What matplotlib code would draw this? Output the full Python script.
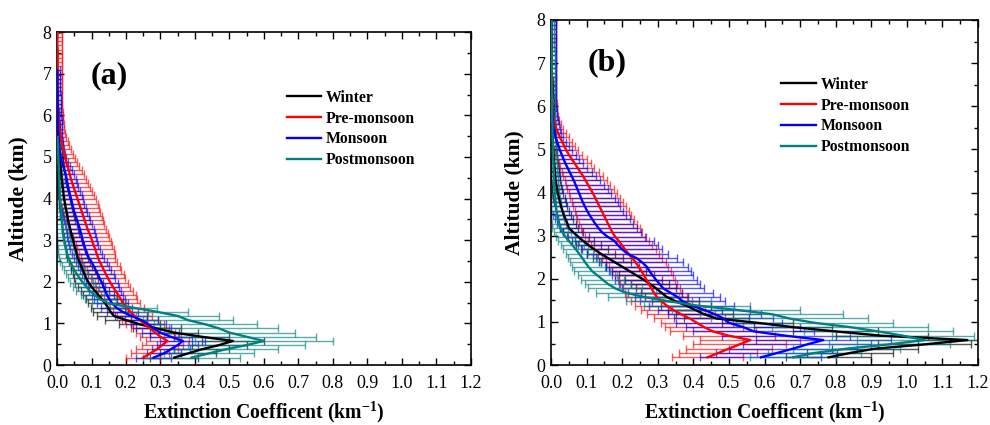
import numpy as np
import matplotlib
matplotlib.use('Agg')
import matplotlib.pyplot as plt
from matplotlib.ticker import MultipleLocator

plt.rcParams['font.family'] = ['Liberation Serif', 'DejaVu Serif']
plt.rcParams['mathtext.fontset'] = 'custom'
plt.rcParams['mathtext.rm'] = 'Liberation Serif'
plt.rcParams['mathtext.bf'] = 'Liberation Serif:bold'

# --- DATA ---
# altitude levels (km), every 0.1 km from 0.18 km
ALT = np.round(np.arange(0.18, 8.0, 0.1), 2)

SEASONS = ['Winter', 'Pre-monsoon', 'Monsoon', 'Postmonsoon']
COLORS = ['#000000', '#ff0000', '#0000ff', '#008080']

# panel (a)
winter_a = [0.34, 0.38, 0.42, 0.47, 0.51, 0.42, 0.34, 0.29, 0.24, 0.20,
            0.165, 0.155, 0.148, 0.14, 0.13, 0.12, 0.11, 0.10, 0.092, 0.085,
            0.08, 0.075, 0.07, 0.065, 0.06, 0.057, 0.054, 0.05, 0.047, 0.044,
            0.041, 0.038, 0.035, 0.032, 0.030, 0.028, 0.025, 0.023, 0.021, 0.019,
            0.018, 0.016, 0.015, 0.013, 0.012, 0.011, 0.010, 0.009, 0.008, 0.007,
            0.006, 0.005, 0.005, 0.004, 0.004, 0.003, 0.003, 0.002, 0.002, 0.002, 0.001]
winter_a_err = [0.07, 0.08, 0.08, 0.08, 0.09, 0.08, 0.07, 0.07, 0.06, 0.06,
                0.05, 0.05, 0.05, 0.05, 0.045, 0.045, 0.04, 0.04, 0.04, 0.035,
                0.035, 0.035, 0.03, 0.03, 0.03, 0.03, 0.028, 0.028, 0.026, 0.025,
                0.024, 0.023, 0.022, 0.021, 0.02, 0.019, 0.018, 0.017, 0.016, 0.015,
                0.014, 0.013, 0.012, 0.011, 0.01, 0.01, 0.009, 0.009, 0.008, 0.008,
                0.007, 0.007, 0.006, 0.006, 0.005, 0.005, 0.005, 0.004, 0.004, 0.004, 0.003]
premon_a = [0.25, 0.27, 0.29, 0.305, 0.32, 0.30, 0.285, 0.27, 0.255, 0.24,
            0.225, 0.213, 0.202, 0.192, 0.185, 0.178, 0.17, 0.162, 0.155, 0.148,
            0.142, 0.136, 0.13, 0.124, 0.119, 0.115, 0.111, 0.106, 0.102, 0.098,
            0.093, 0.088, 0.084, 0.08, 0.076, 0.072, 0.068, 0.064, 0.06, 0.056,
            0.052, 0.048, 0.044, 0.04, 0.037, 0.034, 0.03, 0.027, 0.024, 0.021,
            0.018, 0.015, 0.013, 0.011, 0.009, 0.007, 0.006, 0.005, 0.004, 0.004,
            0.003, 0.003, 0.003, 0.003, 0.003, 0.002, 0.002, 0.002, 0.002, 0.002,
            0.002, 0.002, 0.002, 0.002, 0.002, 0.001, 0.001, 0.001, 0.001]
premon_a_err = [0.05, 0.055, 0.06, 0.06, 0.062, 0.06, 0.056, 0.055, 0.054, 0.052,
                0.05, 0.05, 0.049, 0.05, 0.048, 0.05, 0.051, 0.049, 0.05, 0.05,
                0.051, 0.05, 0.052, 0.051, 0.05, 0.052, 0.053, 0.052, 0.054, 0.053,
                0.054, 0.054, 0.053, 0.054, 0.055, 0.054, 0.053, 0.054, 0.053, 0.052,
                0.05, 0.048, 0.046, 0.044, 0.041, 0.038, 0.035, 0.031, 0.028, 0.025,
                0.022, 0.02, 0.018, 0.016, 0.015, 0.014, 0.013, 0.013, 0.012, 0.012,
                0.012, 0.012, 0.012, 0.012, 0.012, 0.012, 0.012, 0.012, 0.012, 0.012,
                0.012, 0.012, 0.012, 0.012, 0.012, 0.012, 0.012, 0.012, 0.012]
monsoon_a = [0.28, 0.31, 0.33, 0.35, 0.365, 0.33, 0.30, 0.28, 0.265, 0.245,
             0.215, 0.19, 0.172, 0.16, 0.152, 0.145, 0.14, 0.135, 0.13, 0.124,
             0.118, 0.112, 0.106, 0.10, 0.092, 0.086, 0.082, 0.078, 0.075, 0.072,
             0.069, 0.066, 0.062, 0.058, 0.054, 0.05, 0.047, 0.044, 0.041, 0.038,
             0.035, 0.032, 0.03, 0.028, 0.025, 0.022, 0.018, 0.014, 0.011, 0.009,
             0.007, 0.006, 0.005, 0.004, 0.004, 0.003, 0.003, 0.003, 0.002, 0.002,
             0.002, 0.002, 0.002, 0.002, 0.001, 0.001, 0.001, 0.001, 0.001, 0.001]
monsoon_a_err = [0.05, 0.05, 0.055, 0.06, 0.065, 0.06, 0.055, 0.05, 0.05, 0.048,
                 0.046, 0.045, 0.044, 0.045, 0.044, 0.045, 0.046, 0.045, 0.046, 0.045,
                 0.046, 0.045, 0.045, 0.044, 0.044, 0.043, 0.043, 0.042, 0.042, 0.042,
                 0.041, 0.04, 0.04, 0.039, 0.038, 0.037, 0.036, 0.035, 0.034, 0.033,
                 0.031, 0.03, 0.028, 0.026, 0.024, 0.022, 0.02, 0.018, 0.016, 0.014,
                 0.013, 0.012, 0.011, 0.011, 0.01, 0.01, 0.01, 0.01, 0.01, 0.01,
                 0.01, 0.01, 0.01, 0.01, 0.009, 0.009, 0.009, 0.009, 0.009, 0.009]
postmon_a = [0.39, 0.44, 0.49, 0.55, 0.60, 0.55, 0.50, 0.47, 0.43, 0.38,
             0.35, 0.29, 0.22, 0.15, 0.125, 0.11, 0.095, 0.085, 0.075, 0.066,
             0.058, 0.05, 0.044, 0.038, 0.033, 0.029, 0.026, 0.023, 0.021, 0.019,
             0.017, 0.016, 0.015, 0.014, 0.013, 0.012, 0.011, 0.01, 0.009, 0.008,
             0.008, 0.007, 0.007, 0.006, 0.006, 0.005, 0.005, 0.004, 0.004, 0.003,
             0.003, 0.003, 0.002, 0.002]
postmon_a_err = [0.14, 0.13, 0.15, 0.17, 0.20, 0.20, 0.19, 0.17, 0.15, 0.13,
                 0.12, 0.09, 0.07, 0.05, 0.045, 0.04, 0.04, 0.038, 0.036, 0.034,
                 0.032, 0.03, 0.03, 0.028, 0.026, 0.025, 0.024, 0.022, 0.02, 0.02,
                 0.019, 0.018, 0.017, 0.016, 0.015, 0.014, 0.013, 0.012, 0.011, 0.01,
                 0.01, 0.009, 0.009, 0.008, 0.008, 0.007, 0.007, 0.006, 0.006, 0.006,
                 0.005, 0.005, 0.005, 0.005]

# panel (b)
winter_b = [0.78, 0.84, 0.91, 1.05, 1.17, 0.93, 0.80, 0.68, 0.58, 0.465,
            0.43, 0.405, 0.38, 0.35, 0.325, 0.31, 0.295, 0.278, 0.26, 0.24,
            0.22, 0.20, 0.18, 0.16, 0.14, 0.122, 0.105, 0.09, 0.076, 0.062,
            0.05, 0.046, 0.041, 0.036, 0.032, 0.028, 0.025, 0.022, 0.019, 0.017,
            0.015, 0.013, 0.012, 0.011, 0.01, 0.009, 0.008, 0.007, 0.006, 0.005,
            0.005, 0.004, 0.004, 0.003, 0.003, 0.003, 0.002, 0.002, 0.002, 0.002,
            0.002, 0.001, 0.001, 0.001, 0.001]
winter_b_err = [0.12, 0.12, 0.12, 0.13, 0.14, 0.13, 0.12, 0.11, 0.10, 0.09,
                0.08, 0.075, 0.07, 0.065, 0.06, 0.058, 0.056, 0.054, 0.052, 0.05,
                0.048, 0.046, 0.044, 0.042, 0.04, 0.038, 0.035, 0.032, 0.03, 0.028,
                0.026, 0.024, 0.022, 0.02, 0.019, 0.018, 0.017, 0.016, 0.015, 0.014,
                0.013, 0.012, 0.012, 0.011, 0.011, 0.01, 0.01, 0.009, 0.009, 0.008,
                0.008, 0.008, 0.007, 0.007, 0.007, 0.006, 0.006, 0.006, 0.005, 0.005,
                0.005, 0.005, 0.004, 0.004, 0.004]
premon_b = [0.44, 0.47, 0.50, 0.53, 0.56, 0.50, 0.455, 0.43, 0.41, 0.39,
            0.365, 0.343, 0.325, 0.31, 0.297, 0.289, 0.282, 0.275, 0.268, 0.261,
            0.254, 0.246, 0.238, 0.228, 0.218, 0.208, 0.199, 0.19, 0.18, 0.172,
            0.166, 0.16, 0.154, 0.148, 0.142, 0.136, 0.13, 0.124, 0.118, 0.111,
            0.104, 0.097, 0.09, 0.082, 0.074, 0.066, 0.058, 0.05, 0.043, 0.037,
            0.031, 0.025, 0.02, 0.015, 0.011, 0.008, 0.006, 0.005, 0.004, 0.004,
            0.003, 0.003, 0.003, 0.003, 0.003, 0.003, 0.002, 0.002, 0.002, 0.002,
            0.002, 0.002, 0.002, 0.002, 0.002, 0.002, 0.001, 0.001, 0.001]
premon_b_err = [0.10, 0.11, 0.12, 0.13, 0.14, 0.13, 0.12, 0.11, 0.10, 0.10,
                0.095, 0.09, 0.09, 0.085, 0.085, 0.08, 0.08, 0.08, 0.08, 0.081,
                0.082, 0.083, 0.084, 0.085, 0.085, 0.086, 0.086, 0.085, 0.085, 0.084,
                0.083, 0.082, 0.08, 0.078, 0.076, 0.074, 0.072, 0.07, 0.068, 0.065,
                0.062, 0.059, 0.056, 0.052, 0.048, 0.045, 0.042, 0.038, 0.034, 0.031,
                0.028, 0.025, 0.022, 0.019, 0.017, 0.015, 0.014, 0.013, 0.013, 0.012,
                0.012, 0.012, 0.012, 0.012, 0.012, 0.012, 0.012, 0.012, 0.012, 0.012,
                0.012, 0.012, 0.012, 0.012, 0.012, 0.012, 0.012, 0.012, 0.012]
monsoon_b = [0.59, 0.635, 0.68, 0.72, 0.765, 0.66, 0.57, 0.54, 0.50, 0.485,
             0.46, 0.43, 0.395, 0.37, 0.355, 0.335, 0.315, 0.305, 0.295, 0.285,
             0.277, 0.269, 0.256, 0.24, 0.215, 0.20, 0.188, 0.178, 0.158, 0.143,
             0.133, 0.124, 0.116, 0.108, 0.101, 0.095, 0.089, 0.084, 0.079, 0.074,
             0.069, 0.064, 0.058, 0.052, 0.046, 0.04, 0.035, 0.03, 0.025, 0.021,
             0.017, 0.013, 0.01, 0.008, 0.006, 0.005, 0.004, 0.004, 0.003, 0.003,
             0.003, 0.003, 0.003, 0.002, 0.002, 0.002, 0.002, 0.002, 0.002, 0.002,
             0.002, 0.002, 0.002, 0.001, 0.001, 0.001, 0.001, 0.001, 0.001]
monsoon_b_err = [0.17, 0.17, 0.18, 0.18, 0.19, 0.18, 0.17, 0.16, 0.15, 0.14,
                 0.13, 0.13, 0.12, 0.12, 0.12, 0.12, 0.115, 0.115, 0.115, 0.115,
                 0.115, 0.115, 0.116, 0.115, 0.114, 0.113, 0.112, 0.111, 0.11, 0.11,
                 0.108, 0.106, 0.105, 0.103, 0.102, 0.1, 0.098, 0.095, 0.09, 0.085,
                 0.08, 0.074, 0.068, 0.062, 0.056, 0.05, 0.045, 0.04, 0.035, 0.03,
                 0.026, 0.022, 0.019, 0.017, 0.015, 0.014, 0.013, 0.013, 0.012, 0.012,
                 0.012, 0.012, 0.012, 0.012, 0.012, 0.012, 0.012, 0.012, 0.012, 0.012,
                 0.012, 0.012, 0.012, 0.012, 0.012, 0.012, 0.012, 0.012, 0.012]
postmon_b = [0.68, 0.74, 0.83, 0.95, 1.05, 0.99, 0.92, 0.84, 0.74, 0.67,
             0.62, 0.52, 0.41, 0.33, 0.26, 0.21, 0.18, 0.16, 0.145, 0.13,
             0.115, 0.105, 0.096, 0.088, 0.079, 0.07, 0.06, 0.05, 0.04, 0.032,
             0.026, 0.022, 0.019, 0.017, 0.015, 0.014, 0.013, 0.012, 0.011, 0.01,
             0.009, 0.009, 0.008, 0.008, 0.007, 0.007, 0.006, 0.006, 0.005, 0.005,
             0.005, 0.004, 0.004, 0.004, 0.004, 0.003, 0.003, 0.003, 0.003, 0.003,
             0.003, 0.002, 0.002, 0.002, 0.002, 0.002, 0.002, 0.002, 0.002, 0.002,
             0.002, 0.002, 0.001, 0.001, 0.001, 0.001, 0.001, 0.001, 0.001]
postmon_b_err = [0.12, 0.13, 0.15, 0.17, 0.19, 0.20, 0.21, 0.22, 0.22, 0.22,
                 0.20, 0.18, 0.15, 0.12, 0.10, 0.085, 0.075, 0.065, 0.06, 0.055,
                 0.05, 0.047, 0.044, 0.041, 0.038, 0.035, 0.032, 0.03, 0.027, 0.024,
                 0.022, 0.02, 0.018, 0.017, 0.016, 0.015, 0.014, 0.013, 0.012, 0.012,
                 0.011, 0.011, 0.011, 0.01, 0.01, 0.01, 0.01, 0.01, 0.01, 0.01,
                 0.009, 0.009, 0.009, 0.009, 0.009, 0.009, 0.009, 0.009, 0.009, 0.009,
                 0.009, 0.009, 0.008, 0.008, 0.008, 0.008, 0.008, 0.008, 0.008, 0.008,
                 0.008, 0.008, 0.008, 0.008, 0.008, 0.008, 0.008, 0.008, 0.008]

PANELS = [
    ('(a)', [winter_a, premon_a, monsoon_a, postmon_a],
     [winter_a_err, premon_a_err, monsoon_a_err, postmon_a_err]),
    ('(b)', [winter_b, premon_b, monsoon_b, postmon_b],
     [winter_b_err, premon_b_err, monsoon_b_err, postmon_b_err]),
]

fig = plt.figure(figsize=(9.9, 4.25), dpi=100)
axes = [fig.add_axes([0.0576, 0.141, 0.418, 0.7835]),
        fig.add_axes([0.5566, 0.141, 0.4313, 0.812])]
legend_pos = [(0.54, 0.845), (0.525, 0.853)]
tag_pos = [(0.08, 0.87), (0.085, 0.875)]
ylabel_x = [-0.07, -0.062]

for ax, (tag, series, errors), lpos, tpos, lx in zip(axes, PANELS, legend_pos,
                                                   tag_pos, ylabel_x):
    # error bars first, profiles on top
    for vals, err, col in zip(series, errors, COLORS):
        n = len(vals)
        ax.errorbar(vals, ALT[:n], xerr=err, fmt='none', ecolor=col,
                    elinewidth=1.0, capsize=3.2, capthick=1.0, alpha=0.65, zorder=2)
    for vals, col, name in zip(series, COLORS, SEASONS):
        n = len(vals)
        ax.plot(vals, ALT[:n], color=col, lw=1.7, label=name, zorder=3)

    ax.set_xlim(0, 1.2)
    ax.set_ylim(0, 8)
    ax.xaxis.set_major_locator(MultipleLocator(0.1))
    ax.xaxis.set_minor_locator(MultipleLocator(0.05))
    ax.yaxis.set_major_locator(MultipleLocator(1))
    ax.yaxis.set_minor_locator(MultipleLocator(0.5))
    ax.set_xticklabels([f'{v:.1f}' for v in ax.get_xticks()])
    ax.tick_params(which='both', direction='in', top=True, right=True,
                   labelsize=13, width=1.0)
    ax.tick_params(which='major', length=5)
    ax.tick_params(axis='x', pad=7)
    ax.tick_params(axis='y', pad=4)
    ax.tick_params(which='minor', length=3)
    for sp in ax.spines.values():
        sp.set_linewidth(1.2)

    ax.set_xlabel('Extinction Coefficent (km$^{\\mathbf{-1}}$)', fontsize=14.2,
                  fontweight='bold', labelpad=5)
    ax.set_ylabel('Altitude (km)', fontsize=15.5, fontweight='bold')
    ax.yaxis.set_label_coords(lx, 0.5)
    ax.text(tpos[0], tpos[1], tag, transform=ax.transAxes, fontsize=23,
            fontweight='bold', va='center', ha='left')
    ax.legend(loc='upper left', bbox_to_anchor=lpos, frameon=False,
              prop={'weight': 'bold', 'size': 11.3}, handlelength=2.2,
              handletextpad=0.3, labelspacing=0.3, borderaxespad=0)

fig.savefig('out.png', dpi=100)
